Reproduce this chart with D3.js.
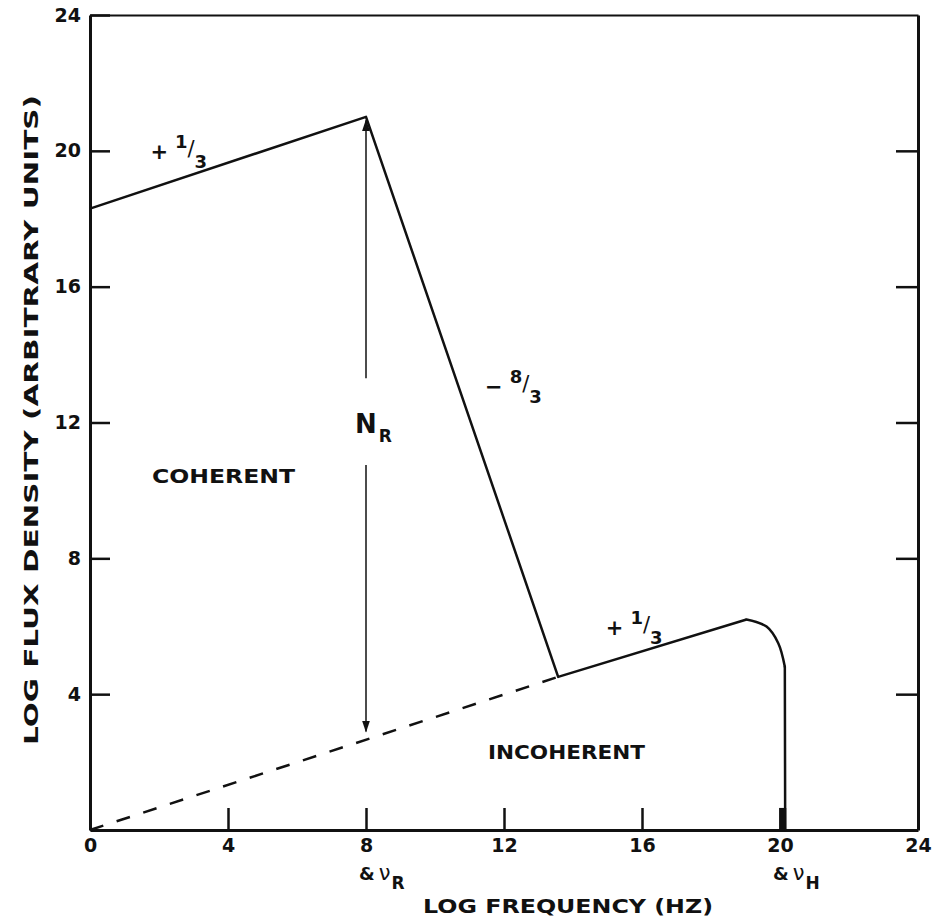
<!DOCTYPE html>
<html>
<head>
<meta charset="utf-8">
<script src="https://cdn.jsdelivr.net/npm/d3@7"></script>
<style>
  body { margin: 0; background: #fff; }
  text { font-family: "DejaVu Sans", sans-serif; font-weight: bold; fill: #111; }
  .axis .domain { stroke: #111; }
  .axis line { stroke: #111; stroke-width: 2.5; }
</style>
</head>
<body>
<svg id="chart" width="933" height="919"></svg>
<script>
// values (log frequency, log flux density)
var xTicks = [0, 4, 8, 12, 16, 20, 24];
var yTicks = [4, 8, 12, 16, 20, 24];
var spectrumX = [0, 8, 13.57, 19.03];
var spectrumY = [18.3, 21.0, 4.51, 6.2];
var kneeX = [19.03, 19.61, 19.95, 20.14];
var kneeY = [6.2, 5.99, 5.5, 4.81];
var dropX = [20.14, 20.15];
var dropY = [4.81, 0];
var incoherentX = [0, 13.57];
var incoherentY = [0, 4.51];
var arrowX = 8;
var arrowTop = [20.9, 13.3];
var arrowBottom = [10.75, 2.9];

// Initial drawable area values
var margin = {top: 15, right: 15, bottom: 89, left: 90},
  width = 933 - margin.left - margin.right,
  height = 919 - margin.top - margin.bottom;

var svg = d3.select("#chart");
var g = svg.append("g")
  .attr("transform", "translate(" + margin.left + "," + margin.top + ")");

var x = d3.scaleLinear().domain([0, 24]).range([0, width]);
var y = d3.scaleLinear().domain([0, 24]).range([height, 0]);

// arrow heads
var defs = svg.append("defs");
defs.append("marker")
  .attr("id", "head")
  .attr("viewBox", "0 0 12 8")
  .attr("refX", 11).attr("refY", 4)
  .attr("markerWidth", 12).attr("markerHeight", 8)
  .attr("markerUnits", "userSpaceOnUse")
  .attr("orient", "auto-start-reverse")
  .append("path")
  .attr("d", "M0,0L12,4L0,8Z")
  .attr("fill", "#111");

// x axis
g.append("g")
  .attr("class", "axis")
  .attr("transform", "translate(0," + height + ")")
  .call(d3.axisBottom(x).tickValues(xTicks).tickSizeInner(-22).tickSizeOuter(0).tickPadding(12))
  .call(function(a) {
    a.select(".domain").attr("stroke-width", 3);
    a.selectAll("text").attr("font-size", 19).attr("dy", "0.5em");
  });

// y axis
g.append("g")
  .attr("class", "axis")
  .call(d3.axisLeft(y).tickValues(yTicks).tickSizeInner(-20).tickSizeOuter(0).tickPadding(9))
  .call(function(a) {
    a.select(".domain").attr("stroke-width", 3);
    a.selectAll("text").attr("font-size", 19);
  });

// right and top frame
g.append("g")
  .attr("class", "axis")
  .attr("transform", "translate(" + width + ",0)")
  .call(d3.axisRight(y).tickValues(yTicks.slice(0, 5)).tickSizeInner(-22).tickSizeOuter(0).tickFormat(""))
  .select(".domain").attr("stroke-width", 3);

g.append("g")
  .attr("class", "axis")
  .call(d3.axisTop(x).tickValues([]).tickSizeOuter(0))
  .select(".domain").attr("stroke-width", 2);

var line = d3.line()
  .x(function(d) { return x(d[0]); })
  .y(function(d) { return y(d[1]); });

var smooth = d3.line()
  .x(function(d) { return x(d[0]); })
  .y(function(d) { return y(d[1]); })
  .curve(d3.curveCatmullRom);

function pairs(xs, ys) { return xs.map(function(v, i) { return [v, ys[i]]; }); }

// coherent spectrum
g.append("path")
  .datum(pairs(spectrumX, spectrumY))
  .attr("d", line)
  .attr("fill", "none")
  .attr("stroke", "#111")
  .attr("stroke-width", 2.5)
  .attr("stroke-linejoin", "round");

// high frequency cutoff
g.append("path")
  .datum(pairs(kneeX, kneeY))
  .attr("d", smooth)
  .attr("fill", "none")
  .attr("stroke", "#111")
  .attr("stroke-width", 2.5)
  .attr("stroke-linecap", "round");
g.append("path")
  .datum(pairs(dropX, dropY))
  .attr("d", line)
  .attr("fill", "none")
  .attr("stroke", "#111")
  .attr("stroke-width", 2.5)
  .attr("stroke-linecap", "round");
// heavy foot where the drop meets the 20 tick
g.append("path")
  .datum([[20.08, 0], [20.08, 0.65]])
  .attr("d", line)
  .attr("stroke", "#111")
  .attr("stroke-width", 7);

// incoherent continuation
g.append("path")
  .datum(pairs(incoherentX, incoherentY))
  .attr("d", line)
  .attr("fill", "none")
  .attr("stroke", "#111")
  .attr("stroke-width", 2.5)
  .attr("stroke-dasharray", "14,14");

// N_R arrow
g.append("line")
  .attr("x1", x(arrowX)).attr("x2", x(arrowX))
  .attr("y1", y(arrowTop[0])).attr("y2", y(arrowTop[1]))
  .attr("stroke", "#111").attr("stroke-width", 1.5)
  .attr("marker-start", "url(#head)");
g.append("line")
  .attr("x1", x(arrowX)).attr("x2", x(arrowX))
  .attr("y1", y(arrowBottom[0])).attr("y2", y(arrowBottom[1]))
  .attr("stroke", "#111").attr("stroke-width", 1.5)
  .attr("marker-end", "url(#head)");

var nr = g.append("text")
  .attr("x", x(arrowX) - 11)
  .attr("y", y(11.7))
  .attr("font-size", 26)
  .attr("font-weight", "normal")
  .text("N");
nr.append("tspan").attr("font-size", 17).attr("font-weight", "bold").attr("dx", 2).attr("dy", 9).text("R");

// slope labels
function slope(px, py, sign, num) {
  var t = g.append("text").attr("x", x(px)).attr("y", y(py)).attr("font-size", 21);
  t.append("tspan").text(sign);
  t.append("tspan").attr("font-size", 18).attr("dx", 7).attr("dy", -11).text(num);
  t.append("tspan").attr("font-size", 21).attr("dx", 0).attr("dy", 8).attr("font-weight", "normal").text("/");
  t.append("tspan").attr("font-size", 18).attr("dx", 0).attr("dy", 12).text("3");
}
slope(1.75, 19.75, "+", "1");
slope(11.45, 12.85, "\u2212", "8");
slope(14.95, 5.75, "+", "1");

// region labels
g.append("text")
  .attr("x", x(3.87)).attr("y", y(10.44))
  .attr("dy", "0.36em")
  .attr("text-anchor", "middle")
  .attr("font-size", 20)
  .attr("textLength", 143).attr("lengthAdjust", "spacingAndGlyphs")
  .text("COHERENT");
g.append("text")
  .attr("x", x(13.81)).attr("y", y(2.3))
  .attr("dy", "0.36em")
  .attr("text-anchor", "middle")
  .attr("font-size", 20)
  .attr("textLength", 157).attr("lengthAdjust", "spacingAndGlyphs")
  .text("INCOHERENT");

// frequency markers under the axis
function marker(px, sub) {
  var t = g.append("text")
    .attr("x", x(px) - 7)
    .attr("y", height + 50)
    .attr("font-size", 18);
  t.append("tspan").text("&");
  t.append("tspan").attr("dx", 4).attr("font-weight", "normal").attr("font-size", 21).text("\u03bd");
  t.append("tspan").attr("dx", 1).attr("dy", 9).attr("font-size", 17).text(sub);
}
marker(8, "R");
marker(20, "H");

// axis titles
g.append("text")
  .attr("x", 568 - margin.left)
  .attr("y", height + 83)
  .attr("text-anchor", "middle")
  .attr("font-size", 19)
  .attr("textLength", 290).attr("lengthAdjust", "spacingAndGlyphs")
  .text("LOG  FREQUENCY  (HZ)");

g.append("text")
  .attr("transform", "translate(" + (38 - margin.left) + "," + (420 - margin.top) + ") rotate(-90)")
  .attr("text-anchor", "middle")
  .attr("font-size", 19)
  .attr("textLength", 650).attr("lengthAdjust", "spacingAndGlyphs")
  .text("LOG  FLUX  DENSITY  (ARBITRARY  UNITS)");
</script>
</body>
</html>
